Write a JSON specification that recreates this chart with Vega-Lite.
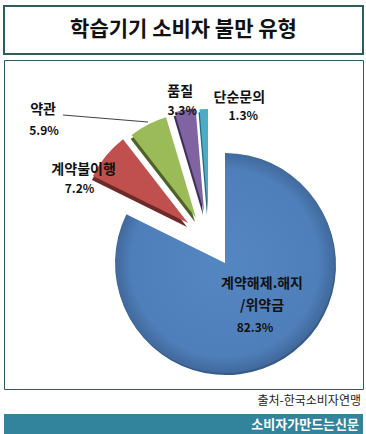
{
  "$schema": "https://vega.github.io/schema/vega-lite/v6.json",
  "padding": {"left": 3, "top": 5, "right": 0, "bottom": 0},
  "background": "white",
  "spacing": 4,
  "config": {"font": "Noto Sans CJK KR", "view": {"stroke": null}},
  "datasets": {
    "complaints": [
      {"rank": 1, "cat": "계약해제.해지/위약금", "label": "계약해제.해지\n/위약금", "share": 0.823},
      {"rank": 2, "cat": "계약불이행", "label": "계약불이행", "share": 0.072},
      {"rank": 3, "cat": "약관", "label": "약관", "share": 0.059},
      {"rank": 4, "cat": "품질", "label": "품질", "share": 0.033},
      {"rank": 5, "cat": "단순문의", "label": "단순문의", "share": 0.013}
    ]
  },
  "vconcat": [
    {
      "width": 359,
      "height": 48,
      "view": {"stroke": "#2b5c62", "strokeWidth": 2},
      "data": {"values": [{"title": "학습기기 소비자 불만 유형"}]},
      "mark": {"type": "text", "fontSize": 21, "fontWeight": "bold", "color": "#111111"},
      "encoding": {"text": {"field": "title"}}
    },
    {
      "width": 359,
      "height": 329,
      "view": {"stroke": "#2b5c62", "strokeWidth": 1},
      "data": {"name": "complaints"},
      "layer": [
        {
          "mark": {"type": "arc", "x": 222, "y": 205, "radius": 110, "color": "#365b88"},
          "encoding": {
            "theta": {"field": "share", "type": "quantitative", "stack": true},
            "order": {"field": "rank", "type": "quantitative"},
            "detail": {"field": "cat"},
            "opacity": {"condition": {"test": "datum.rank == 1", "value": 1}, "value": 0}
          }
        },
        {
          "mark": {"type": "arc", "x": 221, "y": 203, "radius": 110,
            "color": {"gradient": "radial", "x1": 0.5, "y1": 0.5, "r1": 0, "x2": 0.5, "y2": 0.5, "r2": 0.5,
              "stops": [{"offset": 0, "color": "#5486c2"}, {"offset": 0.85, "color": "#4f7fba"}, {"offset": 1, "color": "#41699c"}]}},
          "encoding": {
            "theta": {"field": "share", "type": "quantitative", "stack": true},
            "order": {"field": "rank", "type": "quantitative"},
            "detail": {"field": "cat"},
            "opacity": {"condition": {"test": "datum.rank == 1", "value": 1}, "value": 0}
          }
        },
        {
          "mark": {"type": "arc", "x": 183, "y": 167, "radius": 106, "color": "#6e2a28"},
          "encoding": {
            "theta": {"field": "share", "type": "quantitative", "stack": true},
            "order": {"field": "rank", "type": "quantitative"},
            "detail": {"field": "cat"},
            "opacity": {"condition": {"test": "datum.rank == 2", "value": 1}, "value": 0}
          }
        },
        {
          "mark": {"type": "arc", "x": 184, "y": 163, "radius": 106, "color": "#c0504d"},
          "encoding": {
            "theta": {"field": "share", "type": "quantitative", "stack": true},
            "order": {"field": "rank", "type": "quantitative"},
            "detail": {"field": "cat"},
            "opacity": {"condition": {"test": "datum.rank == 2", "value": 1}, "value": 0}
          }
        },
        {
          "mark": {"type": "arc", "x": 191, "y": 162, "radius": 105, "color": "#4f6328"},
          "encoding": {
            "theta": {"field": "share", "type": "quantitative", "stack": true},
            "order": {"field": "rank", "type": "quantitative"},
            "detail": {"field": "cat"},
            "opacity": {"condition": {"test": "datum.rank == 3", "value": 1}, "value": 0}
          }
        },
        {
          "mark": {"type": "arc", "x": 192, "y": 158, "radius": 105, "color": "#9bbb59"},
          "encoding": {
            "theta": {"field": "share", "type": "quantitative", "stack": true},
            "order": {"field": "rank", "type": "quantitative"},
            "detail": {"field": "cat"},
            "opacity": {"condition": {"test": "datum.rank == 3", "value": 1}, "value": 0}
          }
        },
        {
          "mark": {"type": "arc", "x": 199, "y": 155, "radius": 103, "color": "#40315a"},
          "encoding": {
            "theta": {"field": "share", "type": "quantitative", "stack": true},
            "order": {"field": "rank", "type": "quantitative"},
            "detail": {"field": "cat"},
            "opacity": {"condition": {"test": "datum.rank == 4", "value": 1}, "value": 0}
          }
        },
        {
          "mark": {"type": "arc", "x": 200, "y": 151, "radius": 103, "color": "#8064a2"},
          "encoding": {
            "theta": {"field": "share", "type": "quantitative", "stack": true},
            "order": {"field": "rank", "type": "quantitative"},
            "detail": {"field": "cat"},
            "opacity": {"condition": {"test": "datum.rank == 4", "value": 1}, "value": 0}
          }
        },
        {
          "mark": {"type": "arc", "x": 203, "y": 156, "radius": 104, "color": "#236a7e"},
          "encoding": {
            "theta": {"field": "share", "type": "quantitative", "stack": true},
            "order": {"field": "rank", "type": "quantitative"},
            "detail": {"field": "cat"},
            "opacity": {"condition": {"test": "datum.rank == 5", "value": 1}, "value": 0}
          }
        },
        {
          "mark": {"type": "arc", "x": 204, "y": 153, "radius": 104, "color": "#4bacc6"},
          "encoding": {
            "theta": {"field": "share", "type": "quantitative", "stack": true},
            "order": {"field": "rank", "type": "quantitative"},
            "detail": {"field": "cat"},
            "opacity": {"condition": {"test": "datum.rank == 5", "value": 1}, "value": 0}
          }
        },
        {
          "data": {"values": [{"note": "leader"}]},
          "mark": {"type": "rule", "color": "#404040", "strokeWidth": 1},
          "encoding": {
            "x": {"value": 59}, "y": {"value": 55},
            "x2": {"value": 144}, "y2": {"value": 62}
          }
        },
        {
          "mark": {
            "type": "text", "x": 221, "y": 203,
            "radius": {"expr": "datum.rank == 1 ? 55 : 140"},
            "dx": {"expr": "datum.rank == 1 ? 8 : datum.rank == 2 ? -33 : datum.rank == 3 ? -118 : datum.rank == 4 ? -19 : 20"},
            "dy": {"expr": "datum.rank == 1 ? -26 : datum.rank == 2 ? -4 : datum.rank == 3 ? -28 : datum.rank == 4 ? -33 : -25"},
            "fontSize": 14, "fontWeight": "bold", "lineBreak": "\n", "lineHeight": 22, "color": "#111111"
          },
          "encoding": {
            "theta": {"field": "share", "type": "quantitative", "stack": true},
            "order": {"field": "rank", "type": "quantitative"},
            "detail": {"field": "cat"},
            "text": {"field": "label"}
          }
        },
        {
          "mark": {
            "type": "text", "x": 221, "y": 203,
            "radius": {"expr": "datum.rank == 1 ? 55 : 140"},
            "dx": {"expr": "datum.rank == 1 ? 1 : datum.rank == 2 ? -37 : datum.rank == 3 ? -117 : datum.rank == 4 ? -17 : 24"},
            "dy": {"expr": "datum.rank == 1 ? 18 : datum.rank == 2 ? 15 : datum.rank == 3 ? -7 : datum.rank == 4 ? -14 : -7"},
            "fontSize": 12, "fontWeight": "bold", "color": "#111111"
          },
          "encoding": {
            "theta": {"field": "share", "type": "quantitative", "stack": true},
            "order": {"field": "rank", "type": "quantitative"},
            "detail": {"field": "cat"},
            "text": {"field": "share", "type": "quantitative", "format": ".1%"}
          }
        }
      ]
    },
    {
      "spacing": 6,
      "vconcat": [
        {
          "width": 359,
          "height": 14,
          "data": {"values": [{"source": "출처-한국소비자연맹"}]},
          "mark": {"type": "text", "align": "right", "dx": -2, "fontSize": 12, "color": "#222222"},
          "encoding": {"text": {"field": "source"}, "x": {"value": "width"}}
        },
        {
          "width": 359,
          "height": 21,
          "view": {"fill": "#31849b", "stroke": null},
          "data": {"values": [{"paper": "소비자가만드는신문"}]},
          "mark": {"type": "text", "align": "right", "dx": -4, "fontSize": 13, "fontWeight": "bold", "color": "white"},
          "encoding": {"text": {"field": "paper"}, "x": {"value": "width"}}
        }
      ]
    }
  ]
}
